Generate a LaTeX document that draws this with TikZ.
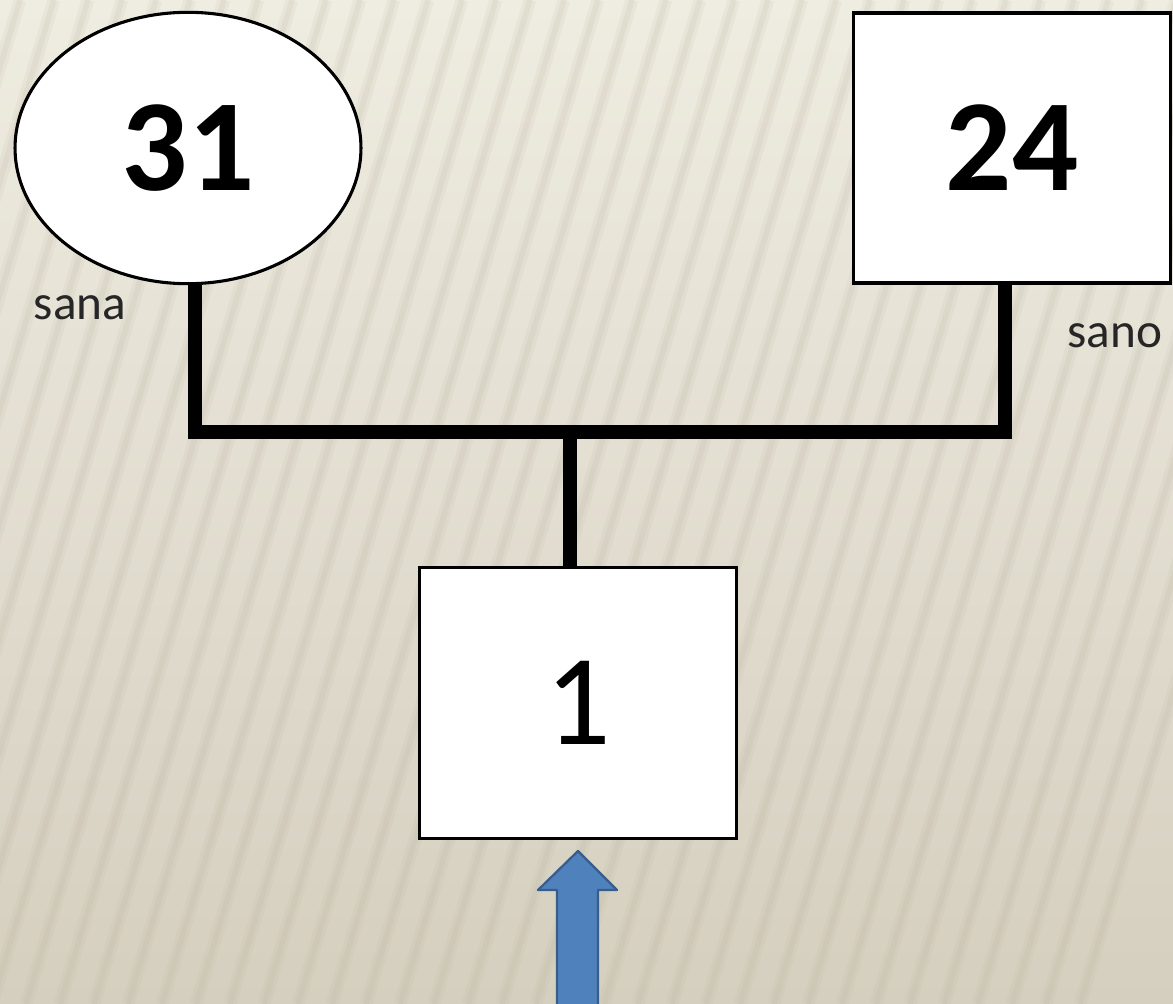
\documentclass[tikz,border=0pt]{standalone}
\usepackage{fontspec}
\setmainfont{Carlito}
\usetikzlibrary{shapes.geometric}
\definecolor{paperTop}{HTML}{EFECE1}
\definecolor{paperBot}{HTML}{D5CFBF}
\definecolor{stripe}{HTML}{B3AC98}
\definecolor{arrowFill}{HTML}{4F81BD}
\definecolor{arrowLine}{HTML}{385D8A}
\tikzset{
  person/.style={draw=black, line width=2.2pt, fill=white, inner sep=0pt},
  male/.style={person, rectangle, minimum width=226pt, minimum height=192pt},
  female/.style={person, ellipse, minimum width=246pt, minimum height=193pt},
  child/.style={person, rectangle, minimum width=226pt, minimum height=193pt},
  bignum/.style={font=\bfseries\fontsize{93}{93}\selectfont},
  smallnum/.style={font=\fontsize{92}{92}\selectfont},
  caption/.style={font=\fontsize{35}{35}\selectfont, text=black!85},
  link/.style={draw=black, line width=10pt},
}
\begin{document}
\begin{tikzpicture}[x=0.025cm, y=-0.025cm]
  % paper background with soft diagonal stripes
  \useasboundingbox (0,0) rectangle (1173,1004);
  \shade[top color=paperTop, bottom color=paperBot] (0,0) rectangle (1173,1004);
  \begin{scope}
    \clip (0,0) rectangle (1173,1004);
    \foreach \k in {-10,...,40} {
      \draw[stripe, line width=9pt, opacity=0.10] (\k*34-280,1004) -- (\k*34+20,0);
      \draw[stripe, line width=4pt, opacity=0.12] (\k*34-280,1004) -- (\k*34+20,0);
    }
  \end{scope}

  % family members
  \node[female, bignum] (mother) at (188,148) {31};
  \node[male, bignum] (father) at (1012,148) {24};
  \node[child, smallnum] (son) at (578,703) {1};

  \node[caption] (sana) at (80,308) {sana};
  \node[caption] (sano) at (1115,336) {sano};

  % marriage line and descent line
  \coordinate (ml) at (195,432);
  \coordinate (mr) at (1005,432);
  \coordinate (mc) at (570,432);
  \draw[link] (mother.south -| ml) -- (ml) -- (mr) -- (father.south -| mr);
  \draw[link] (mc) -- (son.north -| mc);

  % index case arrow
  \coordinate (tip) at (578,851);
  \draw[arrowLine, fill=arrowFill, line width=1.6pt, line join=round]
    (tip) -- (617,890) -- (598,890) -- (598,1010) -- (557,1010)
    -- (557,890) -- (538,890) -- cycle;
\end{tikzpicture}
\end{document}
